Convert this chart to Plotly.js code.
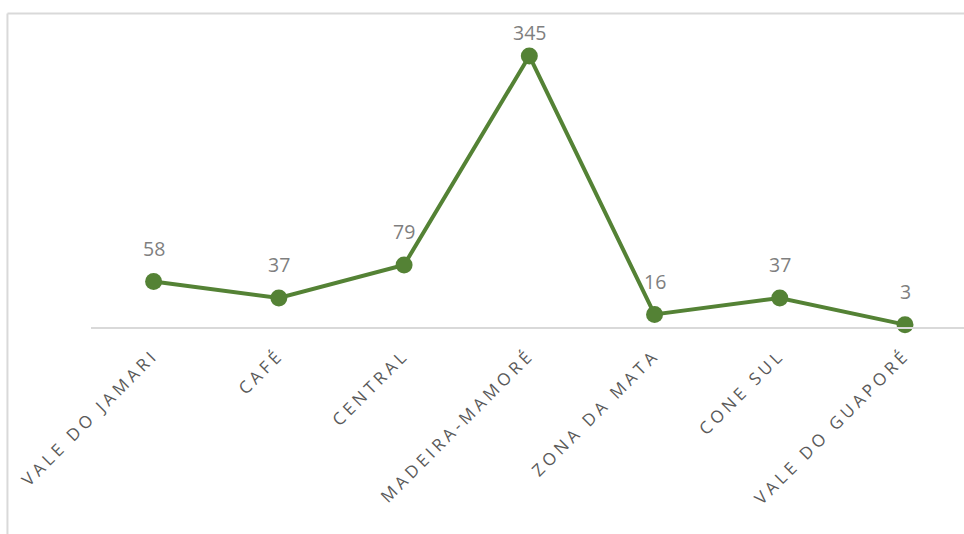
<!DOCTYPE html>
<html>
<head>
<meta charset="utf-8">
<script src="https://cdn.plot.ly/plotly-3.0.1.min.js"></script>
<style>
  html, body { margin: 0; padding: 0; background: #ffffff; overflow: hidden; }
  #chart { width: 964px; height: 534px; }
  .xtick text { letter-spacing: 3.9px; }
</style>
</head>
<body>
<div id="chart"></div>
<script>
// Regions and counts
const regions = ['VALE DO JAMARI', 'CAFÉ', 'CENTRAL', 'MADEIRA-MAMORÉ', 'ZONA DA MATA', 'CONE SUL', 'VALE DO GUAPORÉ'];
const counts = [58, 37, 79, 345, 16, 37, 3];

const green = '#548235';
const plotTop = 20, plotBottom = 327, yMax = 390.8;
const pxPerUnit = (plotBottom - plotTop) / yMax;

// value labels sit above each point, kept inside the chart area
const labelGap = 33, minLabelCenter = 32;
const annotations = counts.map((v, i) => {
  const py = plotBottom - v * pxPerUnit;
  return {
    x: i, y: v, xref: 'x', yref: 'y',
    text: String(v), showarrow: false,
    yanchor: 'middle', xanchor: 'center',
    yshift: Math.min(labelGap, py - minLabelCenter),
    font: { family: 'Open Sans, sans-serif', size: 19.5, color: '#7f7f7f' }
  };
});

const trace = {
  x: regions.map((_, i) => i),
  y: counts,
  type: 'scatter',
  mode: 'lines+markers',
  line: { color: green, width: 4 },
  marker: { color: green, size: 17 },
  cliponaxis: false,
  hoverinfo: 'skip'
};

const frame = { color: '#d9d9d9', width: 2 };
const layout = {
  width: 964, height: 534,
  margin: { l: 91, r: 0, t: plotTop, b: 534 - plotBottom, pad: 0 },
  paper_bgcolor: '#ffffff', plot_bgcolor: '#ffffff',
  showlegend: false,
  xaxis: {
    range: [-0.5, 6.471],
    tickmode: 'array',
    tickvals: regions.map((_, i) => i),
    ticktext: regions,
    tickangle: -45,
    ticks: '',
    ticklabelstandoff: 10,
    showgrid: false, zeroline: false,
    showline: true, linecolor: '#d9d9d9', linewidth: 1.5,
    tickfont: { family: 'Open Sans, sans-serif', size: 17, color: '#595959' },
    fixedrange: true
  },
  yaxis: {
    range: [0, yMax],
    visible: false, showgrid: false, zeroline: false,
    fixedrange: true
  },
  annotations: annotations,
  shapes: [
    { type: 'line', xref: 'paper', yref: 'paper', x0: -0.0957, x1: 1.2, y0: 1.0212, y1: 1.0212, line: frame, layer: 'below' },
    { type: 'line', xref: 'paper', yref: 'paper', x0: -0.0957, x1: -0.0957, y0: 1.0212, y1: -0.7, line: frame, layer: 'below' }
  ]
};

Plotly.newPlot('chart', [trace], layout, { displayModeBar: false, staticPlot: true });
</script>
</body>
</html>
